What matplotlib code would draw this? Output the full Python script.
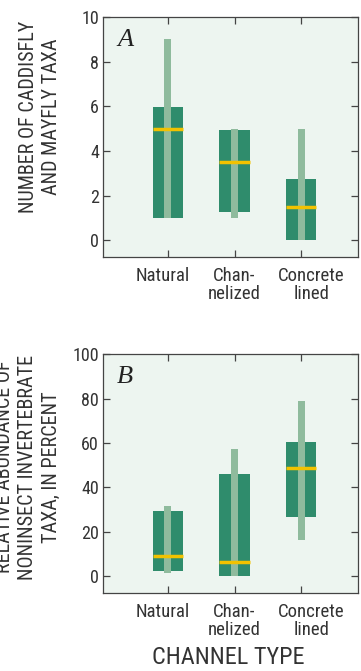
import matplotlib
matplotlib.use("Agg")
import matplotlib.pyplot as plt
import numpy as np

# channel types
categories = ["Natural", "Chan-\nnelized", "Concrete\nlined"]

# panel A: number of caddisfly and mayfly taxa
a_box_lo = [1.0, 1.28, 0.0]
a_box_hi = [5.95, 4.95, 2.75]
a_median = [5.0, 3.5, 1.5]
a_min = [1.0, 1.0, 0.0]
a_max = [9.0, 5.0, 5.0]

# panel B: relative abundance of noninsect invertebrate taxa (percent)
b_box_lo = [2.4, 0.3, 26.9]
b_box_hi = [29.5, 45.9, 60.5]
b_median = [9.0, 6.5, 48.7]
b_min = [1.3, 0.0, 16.5]
b_max = [31.7, 57.4, 78.8]

BG = "#edf5f0"
DARK = "#2f8c6c"
LIGHT = "#8fbb9d"
YELLOW = "#f2c200"
TXT = "#333333"

plt.rcParams["font.family"] = ["Roboto Condensed", "DejaVu Sans"]

fig = plt.figure(figsize=(3.61, 6.71), dpi=100)
axA = fig.add_axes([0.2853, 0.617, 0.7064, 0.3577])
axB = fig.add_axes([0.2853, 0.1158, 0.7064, 0.3562])

x = np.arange(1, 4)


def draw_panel(ax, lo, hi, med, mn, mx, ylim, yticks, letter):
    ax.set_facecolor(BG)
    lo, hi, med, mn, mx = map(np.asarray, (lo, hi, med, mn, mx))
    ax.bar(x, hi - lo, bottom=lo, width=0.45, color=DARK, zorder=2)
    ax.bar(x, mx - mn, bottom=mn, width=0.11, color=LIGHT, zorder=3)
    ax.hlines(med, x - 0.225, x + 0.225, colors=YELLOW, linewidth=2.5, zorder=4)
    ax.set_xlim(0.03, 3.85)
    ax.set_ylim(*ylim)
    ax.set_yticks(yticks)
    ax.set_xticks(x)
    ax.set_xticklabels([])
    ax.tick_params(direction="in", length=5, width=0.9, color="#444444",
                   top=True, right=True, labelsize=13, labelcolor=TXT, pad=3)
    for s in ax.spines.values():
        s.set_color("#444444")
        s.set_linewidth(0.9)
    for xi, lab, dx in zip(x, categories, [-0.07, 0.0, 0.15]):
        ax.text(xi + dx, -0.04, lab, transform=ax.get_xaxis_transform(),
                ha="center", va="top", fontsize=13.5, color=TXT,
                linespacing=1.0)
    ax.text(0.055, 0.95, letter, transform=ax.transAxes, ha="left", va="top",
            fontsize=19, style="italic", family="Liberation Serif", color="#222222")


draw_panel(axA, a_box_lo, a_box_hi, a_median, a_min, a_max,
           (-0.75, 10), [0, 2, 4, 6, 8, 10], "A")
draw_panel(axB, b_box_lo, b_box_hi, b_median, b_min, b_max,
           (-7.7, 100), [0, 20, 40, 60, 80, 100], "B")

fig.text(40 / 361, 1 - 117 / 671, "NUMBER OF CADDISFLY\nAND MAYFLY TAXA",
         rotation=90, ha="center", va="center", multialignment="center",
         fontsize=14.5, color=TXT, linespacing=1.3)
fig.text(28 / 361, 1 - 467 / 671,
         "RELATIVE ABUNDANCE OF\nNONINSECT INVERTEBRATE\nTAXA, IN PERCENT",
         rotation=90, ha="center", va="center", multialignment="center",
         fontsize=14.5, color=TXT, linespacing=1.3)
fig.text(228 / 361, 1 - 658 / 671, "CHANNEL TYPE", ha="center", va="center",
         fontsize=17.5, color=TXT)

fig.savefig("out.png", dpi=100, facecolor="white")
